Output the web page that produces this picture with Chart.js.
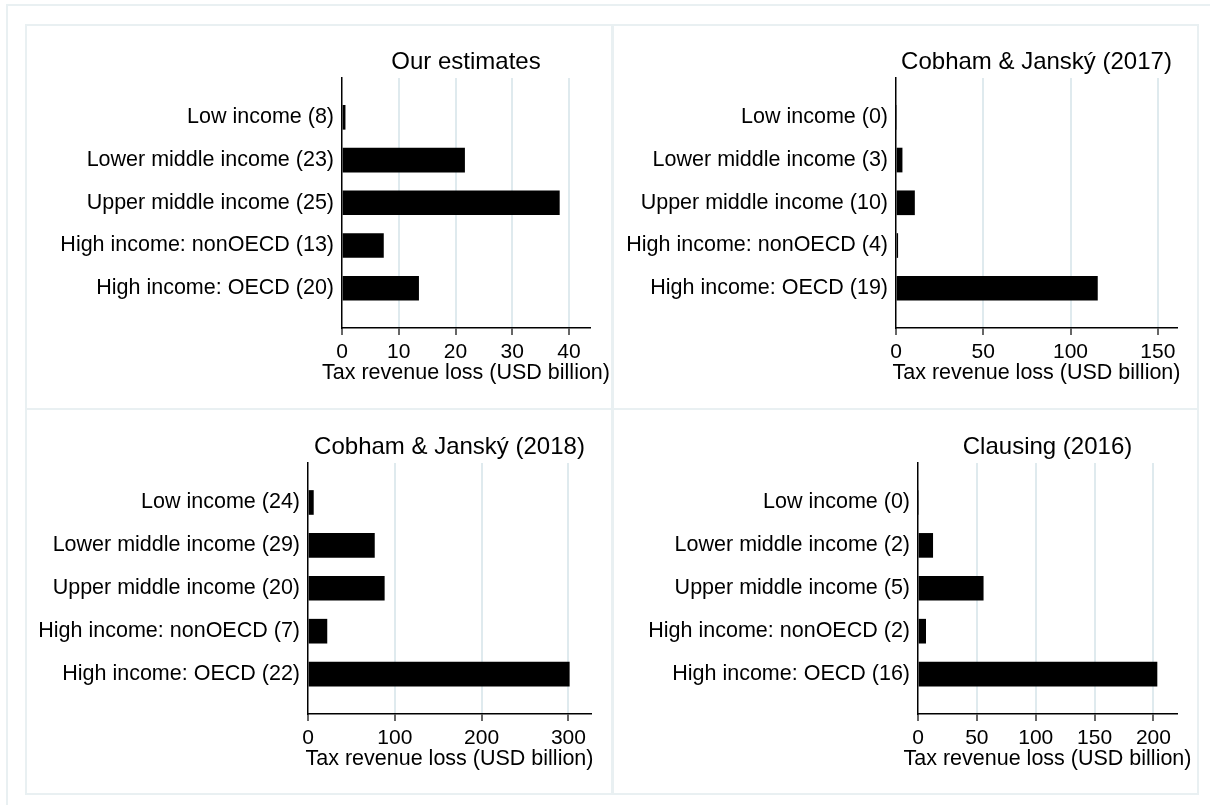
<!DOCTYPE html>
<html>
<head>
<meta charset="utf-8">
<title>Tax revenue loss by income group</title>
<script src="https://cdn.jsdelivr.net/npm/chart.js@4.4.1/dist/chart.umd.min.js"></script>
<style>
  body { margin: 0; background: #fff; }
  #frame {
    position: absolute; left: 6px; top: 4px; width: 1220px; height: 820px;
    border-top: 2px solid #e9f0f2; border-left: 2px solid #e9f0f2;
  }
  .panel {
    position: absolute; box-sizing: border-box;
    border: 2px solid #e9f0f2;
  }
  .panel canvas { position: absolute; left: -2px; top: -2px; }
</style>
</head>
<body>
<div id="frame"></div>
<div id="panels"></div>

<script>
// Income groups (number of countries shown in brackets per study)
const incomeGroups = ['Low income', 'Lower middle income', 'Upper middle income',
  'High income: nonOECD', 'High income: OECD'];
const groupPositions = [1, 2, 3, 4, 5];

const titles = ['Our estimates', 'Cobham & Janský (2017)', 'Cobham & Janský (2018)', 'Clausing (2016)'];
const axisTitle = 'Tax revenue loss (USD billion)';

// country counts
const countsOurs = [8, 23, 25, 13, 20];
const countsCJ2017 = [0, 3, 10, 4, 19];
const countsCJ2018 = [24, 29, 20, 7, 22];
const countsClausing = [0, 2, 5, 2, 16];

// tax revenue loss, USD billion
const lossOurs = [0.55, 21.6, 38.3, 7.3, 13.5];
const lossCJ2017 = [0, 3.5, 10.6, 1.0, 115.4];
const lossCJ2018 = [6.2, 76.5, 87.9, 21.8, 301];
const lossClausing = [0, 12.5, 55.4, 6.5, 203];

// x axis ticks and ranges
const ticksOurs = [0, 10, 20, 30, 40];
const ticksCJ2017 = [0, 50, 100, 150];
const ticksCJ2018 = [0, 100, 200, 300];
const ticksClausing = [0, 50, 100, 150, 200];
const maxOurs = 43.7;
const maxCJ2017 = 161;
const maxCJ2018 = 326;
const maxClausing = 220;

// page layout: panel box and plot area in page pixels
const panels = [
  { box: [25, 24, 613, 410], plot: [342, 78, 590, 328], counts: countsOurs, values: lossOurs, ticks: ticksOurs, max: maxOurs },
  { box: [612, 24, 1199, 410], plot: [896, 78, 1177, 328], counts: countsCJ2017, values: lossCJ2017, ticks: ticksCJ2017, max: maxCJ2017 },
  { box: [25, 408, 613, 795], plot: [308, 463, 591, 714], counts: countsCJ2018, values: lossCJ2018, ticks: ticksCJ2018, max: maxCJ2018 },
  { box: [612, 408, 1199, 795], plot: [918, 463, 1177, 714], counts: countsClausing, values: lossClausing, ticks: ticksClausing, max: maxClausing }
];

const FONT = '"Liberation Sans", Arial, sans-serif';

// titles drawn by hand so they are not squeezed to the plot width
const panelText = {
  id: 'panelText',
  afterDraw(chart, args, opts) {
    const { ctx, chartArea } = chart;
    const cx = (chartArea.left + chartArea.right) / 2;
    ctx.save();
    ctx.fillStyle = '#000';
    ctx.textAlign = 'center';
    ctx.textBaseline = 'middle';
    ctx.font = '24px ' + FONT;
    ctx.fillText(opts.title, cx, chartArea.top - 16);
    ctx.font = '21.5px ' + FONT;
    ctx.fillText(axisTitle, cx, chartArea.bottom + 45);
    ctx.restore();
  }
};

function buildPanel(p, i) {
  const [bl, bt, br, bb] = p.box;
  const [pl, pt, pr, pb] = p.plot;
  const w = br - bl, h = bb - bt;

  const div = document.createElement('div');
  div.className = 'panel';
  div.style.left = bl + 'px';
  div.style.top = bt + 'px';
  div.style.width = w + 'px';
  div.style.height = h + 'px';
  const canvas = document.createElement('canvas');
  canvas.width = w;
  canvas.height = h;
  div.appendChild(canvas);
  document.getElementById('panels').appendChild(div);

  const labels = incomeGroups.map((g, k) => `${g} (${p.counts[k]})`);
  const data = groupPositions.map((pos, k) => ({ x: p.values[k], y: pos }));

  new Chart(canvas.getContext('2d'), {
    type: 'bar',
    data: {
      datasets: [{
        data: data,
        backgroundColor: '#000',
        borderWidth: 0,
        barThickness: 24
      }]
    },
    options: {
      indexAxis: 'y',
      responsive: false,
      animation: false,
      layout: {
        padding: { left: 0, top: pt - bt, right: br - pr, bottom: 0 }
      },
      plugins: {
        legend: { display: false },
        tooltip: { enabled: false },
        panelText: { title: titles[i] }
      },
      scales: {
        x: {
          type: 'linear',
          min: 0,
          max: p.max,
          afterBuildTicks: (scale) => { scale.ticks = p.ticks.map(v => ({ value: v })); },
          afterFit: (scale) => { scale.height = bb - pb; },
          grid: {
            color: (c) => c.tick && c.tick.value === 0 ? 'rgba(0,0,0,0)' : '#dfeaee',
            lineWidth: 2,
            tickColor: '#333',
            tickWidth: 1.5,
            tickLength: 7
          },
          border: { display: true, color: '#000', width: 1.5 },
          ticks: {
            color: '#000',
            font: { family: FONT, size: 21 },
            padding: 5,
            maxRotation: 0
          }
        },
        y: {
          type: 'linear',
          reverse: true,
          offset: false,
          min: 0.08,
          max: 5.93,
          afterBuildTicks: (scale) => { scale.ticks = groupPositions.map(v => ({ value: v })); },
          afterFit: (scale) => { scale.width = pl - bl; },
          grid: { display: false, drawTicks: false, offset: false },
          border: { display: true, color: '#000', width: 1.5 },
          ticks: {
            color: '#000',
            font: { family: FONT, size: 21.5 },
            padding: 8,
            callback: (v) => labels[groupPositions.indexOf(v)]
          }
        }
      }
    },
    plugins: [panelText]
  });
}

document.addEventListener('DOMContentLoaded', () => {
  panels.forEach(buildPanel);
});
</script>
</body>
</html>
